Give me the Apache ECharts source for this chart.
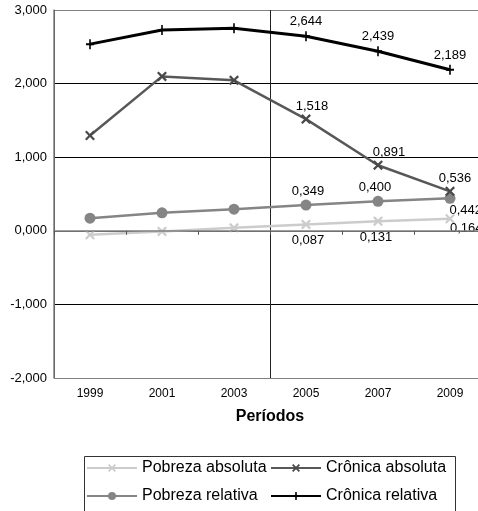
<!DOCTYPE html>
<html>
<head>
<meta charset="utf-8">
<script src="https://cdn.jsdelivr.net/npm/echarts@6/dist/echarts.min.js"></script>
<style>
  html, body { margin: 0; padding: 0; background: #fff; overflow: hidden; }
  /* canvas is a little wider than the window: the plot's right edge is cut off */
  #chart { width: 486px; height: 511px; }
</style>
</head>
<body>
<div id="chart"></div>
<script>
// Periods on the x axis
const periods = ['1999', '2001', '2003', '2005', '2007', '2009'];

// Series values
const pobrezaAbsoluta = [-0.054, -0.008, 0.040, 0.087, 0.131, 0.164];
const cronicaAbsoluta = [1.295, 2.098, 2.044, 1.518, 0.891, 0.536];
const pobrezaRelativa = [0.172, 0.244, 0.294, 0.349, 0.400, 0.442];
const cronicaRelativa = [2.536, 2.729, 2.752, 2.644, 2.439, 2.189];

// Y axis range
const yMin = -2, yMax = 3, yStep = 1;

const fmt = v => v.toFixed(3).replace('.', ',');
const FONT = '"Liberation Sans", Arial, Helvetica, sans-serif';

// Attach value labels to the last three periods, with a placement per point
function withLabels(values, placements) {
  return values.map((v, i) => {
    const p = placements[i];
    if (!p) return v;
    return {
      value: v,
      label: Object.assign({
        show: true,
        formatter: d => fmt(d.value),
        color: '#000',
        fontSize: 13,
        fontFamily: FONT
      }, p)
    };
  });
}

const plus = 'path://M4,0H6V4H10V6H6V10H4V6H0V4H4Z';
const cross = 'path://M0,1.6L1.6,0L5,3.4L8.4,0L10,1.6L6.6,5L10,8.4L8.4,10L5,6.6L1.6,10L0,8.4L3.4,5Z';

const chart = echarts.init(document.getElementById('chart'), null, { renderer: 'canvas' });

const legendCommon = {
  orient: 'vertical',
  top: 460,
  padding: 0,
  itemWidth: 50,
  itemHeight: 10,
  itemGap: 12,
  textStyle: { fontSize: 16, color: '#000', fontFamily: FONT }
};

chart.setOption({
  animation: false,
  backgroundColor: '#fff',
  textStyle: { fontFamily: FONT },
  grid: { left: 54, right: 0, top: 10, bottom: 133, containLabel: false },
  xAxis: [
    {
      type: 'category',
      data: periods,
      boundaryGap: true,
      name: 'Períodos',
      nameLocation: 'middle',
      nameGap: 31,
      nameTextStyle: { fontSize: 16, fontWeight: 'bold', color: '#000', fontFamily: FONT },
      axisLine: { show: true, lineStyle: { color: '#808080', width: 1.5 } },
      axisTick: { show: true, length: 4, lineStyle: { color: '#555' } },
      axisLabel: { color: '#000', fontSize: 12, margin: 10, fontFamily: FONT },
      splitLine: { show: false },
      z: 3
    },
    {
      // helper axis for the vertical divider between 2003 and 2005
      type: 'value',
      position: 'bottom',
      min: 0,
      max: 6,
      interval: 3,
      show: true,
      axisLine: { show: false },
      axisTick: { show: false },
      axisLabel: { show: false },
      splitLine: { show: true, lineStyle: { color: '#222', width: 1 } }
    }
  ],
  yAxis: {
    type: 'value',
    min: yMin,
    max: yMax,
    interval: yStep,
    axisLine: { show: true, lineStyle: { color: '#808080', width: 1.5 } },
    axisTick: { show: false },
    axisLabel: { color: '#000', fontSize: 13, margin: 7, formatter: v => fmt(v), fontFamily: FONT },
    splitLine: {
      show: true,
      lineStyle: { color: ['#808080', '#000', '#444', '#000', '#000', '#808080'], width: 1 }
    }
  },
  legend: [
    Object.assign({ left: 86, data: ['Pobreza absoluta', 'Pobreza relativa'] }, legendCommon),
    Object.assign({ left: 270, data: ['Crônica absoluta', 'Crônica relativa'] }, legendCommon)
  ],
  graphic: [{
    type: 'rect',
    left: 82,
    top: 454,
    shape: { width: 371, height: 55 },
    style: { fill: 'none', stroke: '#333', lineWidth: 1 },
    silent: true,
    z: -1
  }],
  series: [
    {
      name: 'Pobreza absoluta',
      type: 'line',
      data: withLabels(pobrezaAbsoluta, [null, null, null,
        { position: 'bottom', distance: 5, offset: [2, 0] },
        { position: 'bottom', distance: 5, offset: [-2, 0] },
        { position: [5, 8], align: 'left', verticalAlign: 'top' }]),
      symbol: cross,
      symbolSize: 10,
      lineStyle: { color: '#cccccc', width: 2.5 },
      itemStyle: { color: '#cccccc' },
      z: 2
    },
    {
      name: 'Crônica absoluta',
      type: 'line',
      data: withLabels(cronicaAbsoluta, [null, null, null,
        { position: 'top', distance: 1, offset: [6, 0] },
        { position: 'top', distance: 1, offset: [11, 0] },
        { position: 'top', distance: 1, offset: [5, 0] }]),
      symbol: cross,
      symbolSize: 10,
      lineStyle: { color: '#585858', width: 2.5 },
      itemStyle: { color: '#4a4a4a' },
      z: 3
    },
    {
      name: 'Pobreza relativa',
      type: 'line',
      data: withLabels(pobrezaRelativa, [null, null, null,
        { position: 'top', distance: 2, offset: [2, 0] },
        { position: 'top', distance: 2, offset: [-3, 0] },
        { position: [5, 11], align: 'left', verticalAlign: 'top' }]),
      symbol: 'circle',
      symbolSize: 11,
      lineStyle: { color: '#858585', width: 2.5 },
      itemStyle: { color: '#858585' },
      z: 2
    },
    {
      name: 'Crônica relativa',
      type: 'line',
      data: withLabels(cronicaRelativa, [null, null, null,
        { position: 'top', distance: 3 },
        { position: 'top', distance: 3 },
        { position: 'top', distance: 3 }]),
      symbol: plus,
      symbolSize: [8, 10],
      lineStyle: { color: '#000', width: 3 },
      itemStyle: { color: '#000' },
      z: 4
    }
  ]
});
</script>
</body>
</html>
